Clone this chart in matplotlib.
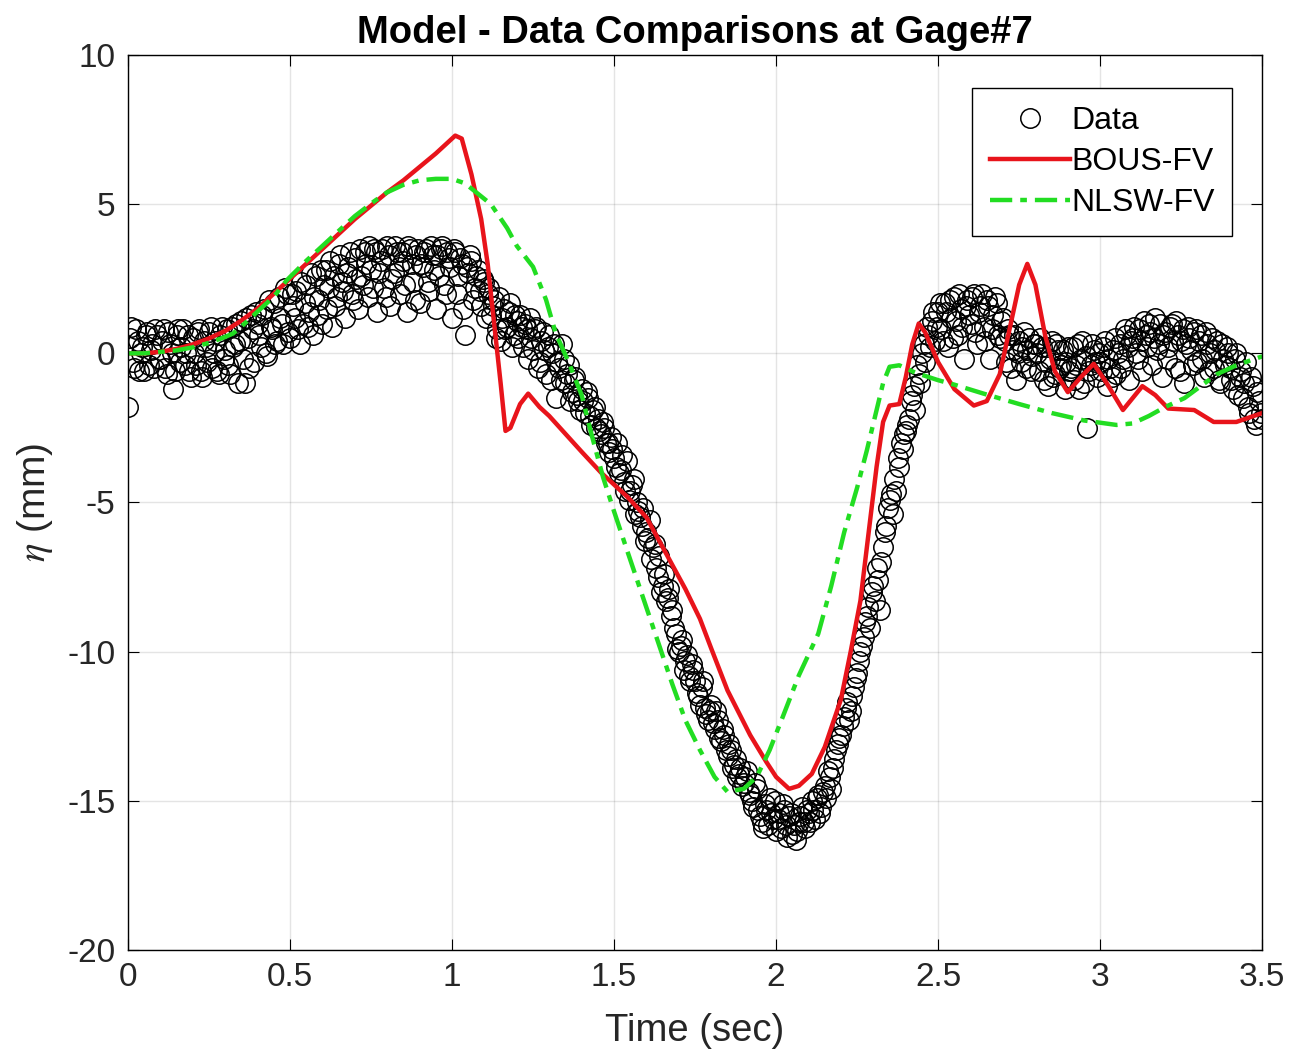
import numpy as np
import matplotlib
matplotlib.use("Agg")
import matplotlib.pyplot as plt

plt.rcParams['font.family'] = ['Liberation Sans', 'DejaVu Sans']
plt.rcParams['mathtext.fontset'] = 'stix'
plt.rcParams['axes.unicode_minus'] = False

# measured data, two interleaved sample sets (every 0.01 s, offset by 0.005 s)
t_data = np.arange(351) / 100.0
eta_data = [
    -1.8, 0.9, -0.5, 0.4, 0.0, -0.6, 0.7, 0.1, -0.5, 0.6,
    -0.2, 0.8, -0.7, 0.3, -1.2, 0.6, -0.3, 0.8, 0.0, -0.6,
    0.5, -0.4, 0.8, -0.8, 0.2, 0.7, -0.5, 0.4, -0.7, 0.9,
    0.1, -0.4, 0.9, 0.3, -1.0, 1.1, -1.0, 0.5, 1.3, -0.3,
    1.0, 0.2, 1.5, -0.1, 0.9, 1.7, 0.4, 1.2, 0.3, 2.0,
    0.5, 1.6, 2.1, 0.3, 1.0, 2.3, 1.4, 0.6, 2.6, 1.8,
    1.0, 2.8, 2.2, 0.9, 1.6, 3.0, 2.4, 1.2, 2.9, 2.0,
    3.2, 1.5, 2.6, 3.4, 1.9, 2.8, 3.5, 1.4, 3.1, 2.2,
    3.6, 1.6, 2.7, 3.4, 2.0, 3.1, 1.4, 3.5, 2.4, 3.3,
    1.7, 2.9, 3.5, 2.1, 3.3, 1.5, 2.6, 3.6, 2.0, 3.2,
    1.2, 3.4, 2.6, 3.0, 0.6, 2.7, 3.1, 2.2, 2.8, 1.6,
    2.4, 2.0, 1.3, 1.8, 0.8, 0.4, 1.5, 0.9, 1.7, 0.6,
    1.1, 1.3, 0.2, 0.8, 1.2, 0.1, 0.9, -0.3, 0.7, -0.7,
    0.6, 0.0, -1.5, -0.5, 0.3, -1.0, -0.4, -1.3, -0.8, -1.6,
    -1.2, -2.0, -1.5, -2.4, -1.8, -2.2, -2.7, -2.5, -3.0, -2.8,
    -3.5, -3.0, -3.9, -4.3, -3.6, -4.6, -4.2, -5.0, -5.5, -5.2,
    -6.0, -5.6, -6.5, -7.2, -6.8, -7.8, -8.3, -7.9, -8.6, -9.4,
    -10.0, -9.6, -10.3, -10.8, -10.4, -11.0, -11.5, -11.2, -11.9, -12.3,
    -11.8, -12.6, -12.3, -13.0, -12.8, -13.5, -13.3, -13.8, -14.2, -13.9,
    -14.4, -14.0, -14.8, -15.2, -14.6, -15.5, -15.9, -15.3, -14.9, -15.6,
    -16.0, -15.4, -15.1, -15.8, -15.5, -16.1, -16.3, -15.7, -15.2, -15.9,
    -15.4, -15.0, -15.6, -14.8, -15.2, -14.5, -14.0, -14.6, -13.6, -13.1,
    -12.8, -12.2, -11.7, -12.0, -11.2, -10.7, -10.0, -9.5, -8.8, -9.2,
    -7.8, -7.2, -8.6, -6.5, -5.8, -4.9, -5.4, -4.6, -3.8, -3.2,
    -2.6, -2.2, -1.4, -1.9, -0.7, 0.0, -0.3, 0.6, 1.1, 0.4,
    1.4, 0.8, 1.7, 0.2, 1.2, 1.9, 0.6, 1.5, -0.2, 1.8,
    1.0, 2.0, 0.3, 1.6, 0.9, 1.8, -0.2, 1.3, 1.7, 0.5,
    1.2, -0.3, 0.6, 0.1, -0.9, 0.4, 0.2, -0.5, 0.5, -0.1,
    0.3, -0.6, 0.2, -0.3, -1.1, 0.4, -0.7, 0.1, -0.4, -1.2,
    0.2, -0.5, -0.9, 0.3, -0.2, -1.0, -2.5, -0.4, 0.1, -0.8,
    -0.3, 0.2, -1.1, -0.5, 0.1, -0.7, 0.3, -0.2, 0.6, -0.9,
    0.5, 0.0, 0.8, -0.6, 0.6, 1.0, -0.4, 1.2, 0.3, -0.8,
    0.7, 0.2, 1.0, -0.5, 0.6, 0.4, -1.0, 0.9, 0.1, 0.7,
    -0.3, 0.6, -0.8, 0.3, 0.0, -0.5, 0.4, -1.0, -0.2, 0.2,
    -0.5, -1.2, 0.0, -0.8, -1.5, -0.3, -2.0, -1.1, -2.4, -1.6,
    -2.2,
]

t_data2 = 0.005 + np.arange(350) / 100.0
eta_data2 = [
    0.5, -0.3, 0.8, -0.6, 0.2, 0.6, -0.4, 0.3, 0.8, -0.2,
    0.4, -0.5, 0.7, 0.0, -0.6, 0.8, 0.2, -0.4, 0.6, -0.8,
    0.0, 0.7, -0.6, 0.4, -0.3, 0.9, 0.0, -0.6, 0.6, -0.2,
    0.8, -0.7, 0.2, 1.0, 0.4, -0.2, 1.2, -0.5, 0.8, 1.4,
    0.6, 1.3, 0.0, 1.8, 0.8, 0.3, 1.9, 1.0, 2.2, 0.7,
    2.0, 1.2, 0.8, 2.4, 1.7, 0.9, 2.7, 1.9, 1.3, 2.8,
    2.3, 1.5, 3.1, 2.6, 1.9, 3.3, 2.1, 2.7, 3.4, 1.8,
    2.5, 3.5, 2.3, 3.0, 3.6, 2.2, 3.4, 2.7, 3.5, 1.9,
    3.3, 2.5, 3.6, 2.9, 3.4, 2.3, 3.6, 3.0, 1.8, 3.5,
    3.0, 3.4, 2.4, 3.6, 2.8, 3.3, 3.5, 2.3, 3.4, 2.9,
    3.5, 2.0, 3.2, 1.5, 2.9, 3.3, 1.8, 2.6, 2.1, 2.5,
    1.2, 2.2, 1.6, 0.5, 1.9, 1.2, 0.8, 1.4, 0.2, 1.3,
    0.5, 0.9, 1.0, -0.2, 0.5, 0.8, -0.5, 0.4, 0.1, 0.2,
    -0.9, 0.3, -0.3, -0.9, -0.2, -0.7, -1.6, -0.9, -1.4, -1.9,
    -1.6, -1.3, -2.1, -1.9, -2.5, -2.6, -2.3, -3.0, -3.3, -3.2,
    -3.8, -4.0, -3.4, -4.6, -4.9, -4.4, -5.4, -5.3, -5.8, -6.3,
    -6.2, -6.9, -6.4, -7.5, -8.0, -7.4, -8.2, -8.8, -9.2, -9.9,
    -9.8, -10.6, -10.1, -11.0, -10.6, -11.4, -11.8, -11.0, -12.1, -12.0,
    -12.4, -12.0, -12.9, -12.6, -13.3, -13.1, -13.9, -13.6, -14.1, -14.5,
    -14.2, -14.7, -15.0, -14.4, -15.3, -15.7, -15.1, -15.8, -15.4, -15.0,
    -15.6, -15.9, -15.3, -16.2, -15.4, -15.8, -16.0, -15.5, -15.7, -15.3,
    -15.7, -15.3, -14.9, -15.4, -14.7, -14.9, -14.2, -13.9, -13.3, -12.9,
    -12.5, -11.9, -12.3, -11.5, -10.9, -10.3, -9.8, -9.0, -8.5, -8.0,
    -8.3, -7.6, -7.0, -6.0, -5.2, -4.7, -4.2, -3.5, -3.0, -2.7,
    -2.4, -1.6, -1.1, -0.4, -1.0, 0.3, 0.9, 0.2, 1.4, 0.9,
    1.7, 0.4, 1.4, 1.8, 0.5, 1.1, 2.0, 0.9, 1.6, 1.3,
    1.9, 0.7, 1.4, 2.0, 0.4, 1.6, 0.8, 1.9, 0.6, 1.1,
    0.4, 0.8, -0.5, 0.6, 0.0, -0.3, 0.7, 0.1, -0.6, 0.3,
    0.0, 0.5, -0.9, 0.2, -0.2, -0.8, 0.3, -0.5, 0.1, -0.3,
    -0.6, 0.2, -0.4, -1.2, 0.4, -0.1, -0.6, 0.3, -0.3, 0.0,
    -0.6, 0.4, -0.2, -0.8, 0.5, 0.0, -0.5, 0.8, 0.2, 0.4,
    0.9, -0.2, 0.4, 1.1, 0.2, 0.7, 0.5, 0.1, 1.0, 0.6,
    -0.2, 0.9, 0.4, 1.1, -0.6, 0.8, 0.3, 0.5, -0.4, 0.8,
    0.4, -0.2, 0.7, -0.6, 0.5, 0.1, -0.9, 0.3, -0.4, 0.0,
    -0.9, -0.2, -1.4, -0.6, -1.0, -1.8, -0.8, -2.2, -1.3, -2.0,
]

# BOUS-FV model
t_bous = [0.0, 0.05, 0.1, 0.15, 0.2, 0.25, 0.3, 0.35, 0.4, 0.45, 0.5, 0.55,
          0.6, 0.65, 0.7, 0.75, 0.8, 0.85, 0.9, 0.95, 0.98, 1.01, 1.03, 1.06,
          1.09, 1.11, 1.13, 1.15, 1.165, 1.18, 1.21, 1.235, 1.27, 1.3, 1.35,
          1.4, 1.46, 1.5, 1.54, 1.6, 1.63, 1.68, 1.72, 1.765, 1.8, 1.85, 1.92,
          1.97, 2.0, 2.04, 2.07, 2.11, 2.15, 2.2, 2.23, 2.26, 2.29, 2.31, 2.33,
          2.35, 2.38, 2.4, 2.42, 2.44, 2.46, 2.5, 2.55, 2.61, 2.65, 2.69, 2.72,
          2.75, 2.775, 2.8, 2.83, 2.86, 2.9, 2.94, 2.98, 3.02, 3.07, 3.1, 3.13,
          3.17, 3.21, 3.29, 3.35, 3.42, 3.5]
eta_bous = [0.0, 0.0, 0.05, 0.15, 0.3, 0.5, 0.75, 1.1, 1.5, 2.0, 2.5, 3.0,
            3.5, 4.0, 4.5, 4.95, 5.4, 5.8, 6.25, 6.7, 7.0, 7.3, 7.2, 6.0,
            4.5, 3.0, 1.0, -1.0, -2.6, -2.5, -1.7, -1.35, -1.8, -2.1, -2.7,
            -3.3, -4.0, -4.4, -4.8, -5.5, -6.1, -7.1, -7.9, -8.9, -9.9, -11.3, -12.8,
            -13.7, -14.2, -14.6, -14.5, -14.1, -13.2, -11.6, -10.0, -8.3, -5.6, -3.8, -2.3,
            -1.75, -1.7, -0.8, 0.3, 1.0, 0.7, -0.3, -1.2, -1.75, -1.6, -0.7, 0.8,
            2.3, 3.0, 2.3, 0.6, -0.6, -1.3, -0.8, -0.35, -1.0, -1.9, -1.5, -1.1,
            -1.4, -1.85, -1.9, -2.3, -2.3, -2.0]

# NLSW-FV model
t_nlsw = [0.0, 0.05, 0.1, 0.15, 0.2, 0.25, 0.3, 0.325, 0.35, 0.4, 0.45, 0.49,
          0.55, 0.6, 0.65, 0.7, 0.76, 0.8, 0.85, 0.9, 0.95, 1.0, 1.04, 1.08,
          1.12, 1.17, 1.2, 1.25, 1.29, 1.32, 1.36, 1.4, 1.43, 1.466, 1.5, 1.54,
          1.61, 1.68, 1.72, 1.765, 1.81, 1.85, 1.9, 1.94, 1.98, 2.02, 2.07, 2.13,
          2.17, 2.21, 2.25, 2.28, 2.31, 2.33, 2.35, 2.38, 2.43, 2.5, 2.55, 2.64,
          2.75, 2.85, 2.95, 3.05, 3.1, 3.15, 3.2, 3.26, 3.31, 3.36, 3.42, 3.5]
eta_nlsw = [0.0, 0.0, 0.05, 0.1, 0.2, 0.35, 0.55, 0.67, 0.9, 1.4, 1.9, 2.45,
            3.1, 3.6, 4.1, 4.6, 5.1, 5.4, 5.65, 5.8, 5.85, 5.85, 5.7, 5.35,
            5.0, 4.2, 3.6, 2.9, 1.8, 0.67, -0.3, -1.4, -2.7, -4.15, -5.3, -6.6,
            -8.85, -11.1, -12.3, -13.3, -14.2, -14.7, -14.6, -14.2, -13.3, -12.2, -10.8, -9.4,
            -7.8, -6.0, -4.5, -3.25, -1.9, -1.0, -0.45, -0.4, -0.65, -0.9, -1.05, -1.35,
            -1.7, -2.0, -2.25, -2.4, -2.35, -2.1, -1.8, -1.5, -1.1, -0.7, -0.4, -0.1]

fig = plt.figure(figsize=(12.92, 10.59), dpi=100)
ax = fig.add_axes([0.099, 0.103, 0.878, 0.845])

ax.plot(t_data, eta_data, 'o', mfc='none', mec='black', ms=14, mew=1.1, label='Data')
ax.plot(t_data2, eta_data2, 'o', mfc='none', mec='black', ms=14, mew=1.1)
ax.plot(t_bous, eta_bous, '-', color='#e8141b', lw=3.2, label='BOUS-FV')
ax.plot(t_nlsw, eta_nlsw, '-.', color='#22dd22', lw=3.2, dashes=(5, 1.8, 1.5, 1.8),
        label='NLSW-FV')

ax.set_xlim(0, 3.5)
ax.set_ylim(-20, 10)
ax.set_xticks([0, 0.5, 1, 1.5, 2, 2.5, 3, 3.5])
ax.set_xticklabels(['0', '0.5', '1', '1.5', '2', '2.5', '3', '3.5'])
ax.set_yticks([-20, -15, -10, -5, 0, 5, 10])
ax.grid(True, color='#262626', alpha=0.12, lw=1.0)
ax.tick_params(direction='in', top=True, right=True, labelsize=24, length=8, pad=9,
               labelcolor='#262626')
for s in ax.spines.values():
    s.set_linewidth(1.0)

ax.set_title('Model - Data Comparisons at Gage#7', fontsize=27.5, fontweight='bold', pad=9)
ax.set_xlabel('Time (sec)', fontsize=27.5, labelpad=14, color='#262626')
ax.set_ylabel(r'$\eta$ (mm)', fontsize=28, labelpad=9, color='#262626')

leg = ax.legend(loc='upper right', fontsize=23, frameon=True, fancybox=False,
                edgecolor='black', framealpha=1, borderpad=0.55, handlelength=2.5,
                handletextpad=0.05, labelspacing=0.35, borderaxespad=0,
                bbox_to_anchor=(0.9735, 0.963))
leg.get_frame().set_linewidth(1.0)

fig.savefig('out.png', dpi=100)
